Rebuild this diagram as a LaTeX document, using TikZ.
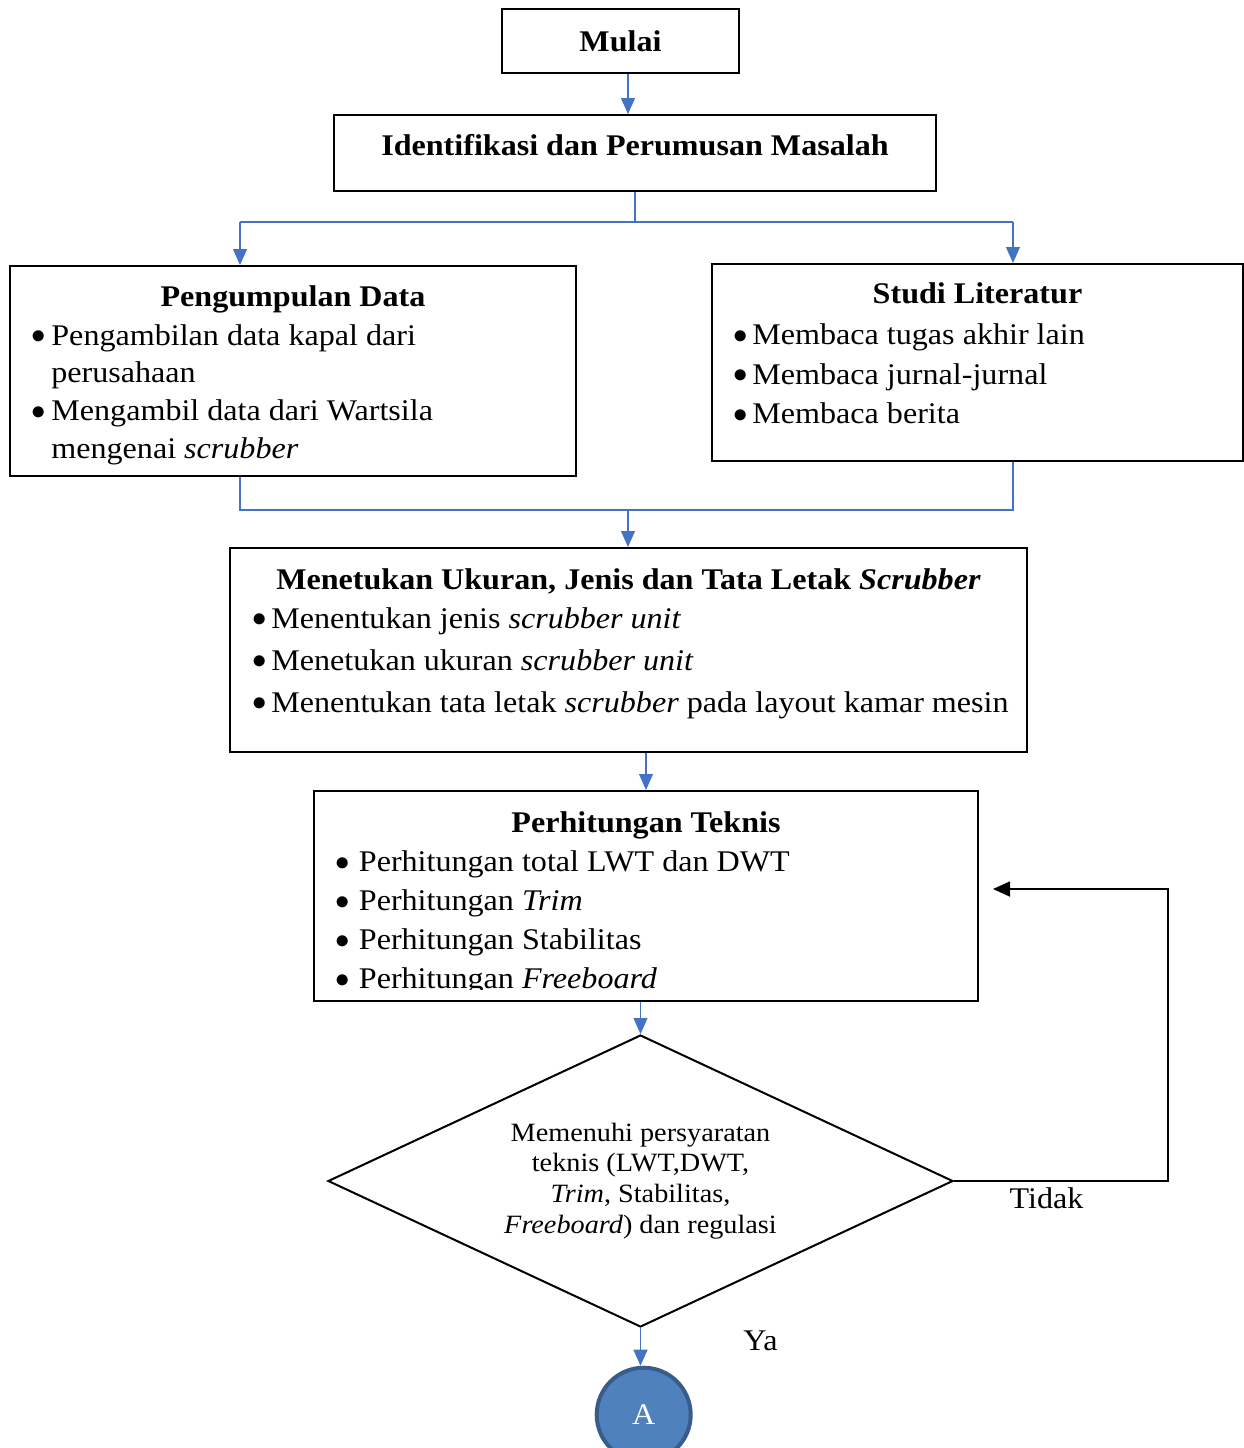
\documentclass[tikz,border=0pt]{standalone}
\usepackage{fontspec}
\setmainfont[FakeStretch=1.07]{Liberation Serif}
\usetikzlibrary{arrows.meta,shapes.geometric,positioning}
\definecolor{garisbiru}{HTML}{4472C4}
\definecolor{isibiru}{HTML}{4F81BD}
\definecolor{tepibiru}{HTML}{385D8A}
\newcommand{\butir}[1]{\makebox[#1][l]{\raisebox{0.6pt}{$\bullet$}}}
\tikzset{
  kotak/.style={draw, line width=1pt, inner sep=0pt},
  judul/.style={font=\bfseries\fontsize{15}{18}\selectfont, anchor=base, inner sep=0pt},
  teks/.style={font=\fontsize{15}{18}\selectfont, anchor=base, inner sep=0pt},
  daftar/.style={anchor=base west, inner sep=0pt},
  keputusan/.style={draw, shape=diamond, line width=1pt, aspect=2.14, inner sep=0pt,
    minimum width=312.5pt, minimum height=146pt, align=center,
    font=\fontsize{13.2}{15.35}\selectfont},
  panah/.style={garisbiru, line width=0.6pt, -{Triangle[length=8pt,width=7pt]}},
  garis/.style={garisbiru, line width=0.6pt},
  balik/.style={black, line width=0.9pt, -{Triangle[length=8.5pt,width=7.5pt]}},
}
\begin{document}
\begin{tikzpicture}[x=0.5pt, y=-0.5pt]
				\useasboundingbox (0,0) rectangle (1244,1448);
				
				% kotak-kotak
				\node[kotak, minimum width=118.5pt, minimum height=32pt] (mulai) at (620.5,41) {};
				\node[kotak, minimum width=301pt, minimum height=38pt] (ident) at (635,153) {};
				\node[kotak, minimum width=283pt, minimum height=105pt] (data) at (293,371) {};
				\node[kotak, minimum width=265.5pt, minimum height=98.5pt] (studi) at (977.5,362.5) {};
				\node[kotak, minimum width=398.5pt, minimum height=102pt] (ukuran) at (628.5,650) {};
				\node[kotak, minimum width=332pt, minimum height=105pt] (teknis) at (646,896) {};
				
				% judul
				\node[judul] (tmulai) at (620.5,51) {Mulai};
				\node[judul] (tident) at (635,155) {Identifikasi dan Perumusan Masalah};
				\node[judul] (tdata) at (293,306.5) {Pengumpulan Data};
				\node[judul] (tstudi) at (977.5,303.5) {Studi Literatur};
				\node[judul] (tukuran) at (628.5,589) {Menetukan Ukuran, Jenis dan Tata Letak \textit{Scrubber}};
				\node[judul] (tteknis) at (646,832) {Perhitungan Teknis};
				
				% isi
				\node[daftar, font=\fontsize{15}{18.85}\selectfont] (ldata) at (31,345) {\begin{tabular}[t]{@{}l@{}}
					\butir{10pt}Pengambilan data kapal dari\\
					\hspace{10pt}perusahaan\\
					\butir{10pt}Mengambil data dari Wartsila\\
					\hspace{10pt}mengenai \textit{scrubber}
				\end{tabular}};
				\node[daftar, font=\fontsize{15}{19.75}\selectfont] (lstudi) at (733,344.5) {\begin{tabular}[t]{@{}l@{}}
					\butir{9.5pt}Membaca tugas akhir lain\\
					\butir{9.5pt}Membaca jurnal-jurnal\\
					\butir{9.5pt}Membaca berita
				\end{tabular}};
				\node[daftar, font=\fontsize{15}{21}\selectfont] (lukuran) at (252,628) {\begin{tabular}[t]{@{}l@{}}
					\butir{9.5pt}Menentukan jenis \textit{scrubber unit}\\
					\butir{9.5pt}Menetukan ukuran \textit{scrubber unit}\\
					\butir{9.5pt}Menentukan tata letak \textit{scrubber} pada layout kamar mesin
				\end{tabular}};
				\begin{scope}
					\clip (314,791) rectangle (978,989);
					\node[daftar, font=\fontsize{15}{19.5}\selectfont] (lteknis) at (335,871.5) {\begin{tabular}[t]{@{}l@{}}
						\butir{11.75pt}Perhitungan total LWT dan DWT\\
						\butir{11.75pt}Perhitungan \textit{Trim}\\
						\butir{11.75pt}Perhitungan Stabilitas\\
						\butir{11.75pt}Perhitungan \textit{Freeboard}
					\end{tabular}};
				\end{scope}
				
				\node[keputusan] (syarat) at (640.5,1181) {Memenuhi persyaratan\\ teknis (LWT,DWT,\\ \textit{Trim}, Stabilitas,\\ \textit{Freeboard}) dan regulasi};
				
				\node[circle, draw=tepibiru, line width=2pt, fill=isibiru, text=white, minimum size=47pt, inner sep=0pt,
					font=\fontsize{15}{18}\selectfont] (a) at (643.7,1414.7) {A};
				
				\node[teks] (tidak) at (1046.5,1208) {Tidak};
				\node[teks] (ya) at (760.5,1350) {Ya};
				
				% penghubung
				\draw[panah] ([xshift=3.75pt]mulai.south) -- ([xshift=3.75pt]mulai.south |- ident.north);
				\coordinate (kiri) at (240,222);
				\coordinate (kanan) at (1013,222);
				\draw[garis] (ident.south) -- (ident.south |- kiri);
				\draw[garis] (kiri) -- (kanan);
				\draw[panah] (kiri) -- (kiri |- data.north);
				\draw[panah] (kanan) -- (kanan |- studi.north);
				
				\coordinate (gabung) at (628,510);
				\draw[garis] (data.south -| kiri) |- (gabung) -| (studi.south -| kanan);
				\draw[panah] (gabung) -- (gabung |- ukuran.north);
				\draw[panah] (ukuran.south -| teknis.north) -- (teknis.north);
				\draw[panah] (teknis.south -| syarat.north) -- (syarat.north);
				\draw[balik] (syarat.east) -- ++(214,0) |- ([shift={(7pt,3.5pt)}]teknis.east);
				\draw[panah] (syarat.south) -- (syarat.south |- a.north);
			\end{tikzpicture}
\end{document}
